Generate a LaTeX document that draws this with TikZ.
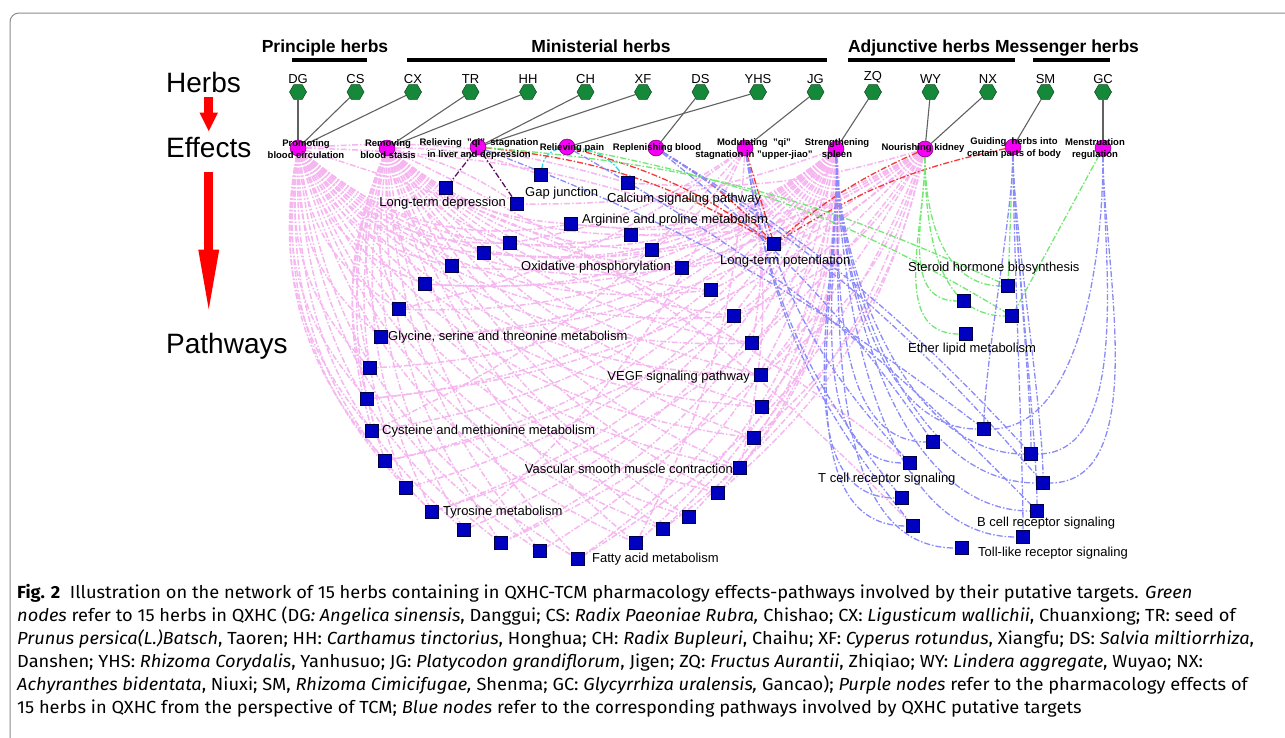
\documentclass[tikz,border=0pt]{standalone}
\usepackage{fontspec}
\setmainfont{Liberation Sans}
\newfontfamily\capfont[FakeStretch=1.042]{Fira Sans}
\usetikzlibrary{arrows.meta,shapes.geometric,backgrounds}
\definecolor{herbgreen}{HTML}{16883A}
\definecolor{effmag}{HTML}{F400F4}
\definecolor{pathblue}{HTML}{0000C0}
\definecolor{edgepink}{HTML}{F6B6F0}
\definecolor{edgeblue}{HTML}{8A8AFA}
\definecolor{edgered}{HTML}{F43838}
\definecolor{edgegreen}{HTML}{72E872}
\definecolor{edgecyan}{HTML}{22D8E4}
\definecolor{edgeplum}{HTML}{5E1264}
\definecolor{framegray}{HTML}{8A8A8A}
\tikzset{
  herb/.style={regular polygon, regular polygon sides=6, minimum size=17pt, inner sep=0pt, fill=herbgreen, draw=herbgreen!55!black, line width=0.5pt, label distance=3pt},
  effect/.style={circle, minimum size=16pt, inner sep=0pt, fill=effmag, draw=effmag!45!black, line width=0.5pt},
  pathway/.style={rectangle, minimum size=13pt, inner sep=0pt, fill=pathblue, draw=pathblue!35!black, line width=0.6pt},
  herbtxt/.style={font=\fontsize{13}{15}\selectfont, inner sep=1pt},
  efftxt/.style={font=\bfseries\fontsize{9.5}{11.5}\selectfont, align=center, inner sep=0pt},
  pathtxt/.style={font=\fontsize{13}{15}\selectfont, inner sep=0pt},
  sidetxt/.style={font=\fontsize{28}{32}\selectfont, inner sep=0pt, anchor=base west},
  titletxt/.style={font=\bfseries\fontsize{17.5}{20}\selectfont, inner sep=0pt, anchor=base},
  captxt/.style={font=\capfont\fontsize{17.5}{20}\selectfont, inner sep=0pt, anchor=base west},
  bar/.style={line width=4pt},
  herbline/.style={draw=black!62, line width=1.1pt},
  dd/.style={dash pattern=on 6pt off 2pt on 1.5pt off 2pt, line width=1.3pt},
  pinkedge/.style={dd, draw=edgepink, line width=1.5pt},
  blueedge/.style={dd, draw=edgeblue},
  rededge/.style={dd, draw=edgered},
  greenedge/.style={dd, draw=edgegreen},
  cyanedge/.style={dd, draw=edgecyan},
  plumedge/.style={dd, draw=edgeplum},
  bigarr/.style={draw=red, line width=#1, line cap=butt},
}
\begin{document}
\begin{tikzpicture}[x=1pt, y=-1pt]
  \useasboundingbox (0,0) rectangle (1285,737);
  \draw[framegray, line width=1pt, rounded corners=9pt] (10,760) -- (10,13) -- (1300,13);

  % left column
  \node[sidetxt] (herbs) at (166,92) {Herbs};
  \node[sidetxt] (effects) at (166,157) {Effects};
  \node[sidetxt] (pathways) at (166,353) {Pathways};
  \draw[bigarr=8.5pt, -{Triangle[length=19pt, width=17pt]}, shorten <=5pt, shorten >=5pt] (effects.north |- herbs.south) -- (effects.north);
  \draw[bigarr=9pt, -{Triangle[length=68pt, width=18pt]}, shorten <=15pt, shorten >=15pt] (effects.south) -- (effects.south |- pathways.north);

  % herb groups
  \node[titletxt] (tprin) at (325,52) {Principle herbs};
  \node[titletxt] (tmini) at (601,52) {Ministerial herbs};
  \node[titletxt] (tadju) at (919,52) {Adjunctive herbs};
  \node[titletxt] (tmess) at (1067,52) {Messenger herbs};
  \draw[bar] (292,60) -- (367,60);
  \draw[bar] (407,60) -- (827,60);
  \draw[bar] (848,60) -- (1015,60);
  \draw[bar] (1033,60) -- (1110,60);

  \foreach \nm/\tx [count=\i from 0] in {dg/DG, cs/CS, cx/CX, tr/TR, hh/HH, ch/CH, xf/XF, ds/DS, yhs/YHS, jg/JG, zq/ZQ, wy/WY, nx/NX, sm/SM, gc/GC}
    \node[herb, label={[herbtxt]above:\tx}] (\nm) at ({298+57.5*\i},92) {};

  % effects
  \foreach \nm/\x/\y in {pbc/298/148, rbs/387/148, rqs/478/147, rpn/567/147, rpb/656/148, mqs/745/148, ssp/836/149, nkd/925/149, ghb/1013/147, mre/1103/148}
    \node[effect] (\nm) at (\x,\y) {};
  \foreach \nm/\x/\y/\tx in {pbc/306/149/{Promoting\\blood circulation}, rbs/388/149/{Removing\\blood stasis}, rqs/479/149/{Relieving \ "qi" \ stagnation\\in liver and depression}, rpn/572/148/{Relieving pain}, rpb/657/148/{Replenishing blood}, mqs/754/149/{Modulating \ "qi"\\stagnation in "upper-jiao"}, ssp/837/149/{Strengthening\\spleen}, nkd/923/148/{Nourishing kidney}, ghb/1014/148/{Guiding \ herbs into\\certain parts of body}, mre/1095/149/{Menstruation\\regulation}}
    \node[efftxt] (\nm-t) at (\x,\y) {\tx};

  % pathways
  \foreach \x/\y [count=\k] in {571/224, 510/243, 484/253, 452/266, 425/284, 399/309, 381/337, 370/368, 367/399, 372/431, 385/461, 406/488, 432/512, 464/530, 501/543, 540/551, 578/559, 636/543, 663/529, 689/517, 718/493, 740/468, 754/438, 762/407, 761/375, 752/343, 734/316, 711/290, 682/268, 652/250, 631/235}
    \node[pathway] (m\k) at (\x,\y) {};
  \foreach \nm/\x/\y in {ltda/446/188, ltdb/517/204, gap/541/175, cal/628/183, ltp/774/244, st1/1008/286, st2/964/301, st3/1012/316, st4/966/334, im1/984/429, im2/933/442, im3/1031/454, im4/910/463, im5/1043/483, im6/902/498, im7/1037/511, im8/913/526, im9/1023/537, im10/962/548}
    \node[pathway] (\nm) at (\x,\y) {};

  \node[pathtxt, anchor=east] (tltd) at (506,203) {Long-term depression};
  \node[pathtxt, anchor=west] (tgap) at (525,193) {Gap junction};
  \node[pathtxt, anchor=west] (tcal) at (607,199) {Calcium signaling pathway};
  \node[pathtxt, anchor=west] (targ) at (582,220) {Arginine and proline metabolism};
  \node[pathtxt, anchor=east] (toxp) at (671,267) {Oxidative phosphorylation};
  \node[pathtxt, anchor=west] (tltp) at (720,261) {Long-term potentiation};
  \node[pathtxt, anchor=west] (tgly) at (388,337) {Glycine, serine and threonine metabolism};
  \node[pathtxt, anchor=west] (tcys) at (382,431) {Cysteine and methionine metabolism};
  \node[pathtxt, anchor=west] (ttyr) at (443,512) {Tyrosine metabolism};
  \node[pathtxt, anchor=west] (tfat) at (592,559) {Fatty acid metabolism};
  \node[pathtxt, anchor=east] (tvsm) at (733,469) {Vascular smooth muscle contraction};
  \node[pathtxt, anchor=east] (tveg) at (750,377) {VEGF signaling pathway};
  \node[pathtxt, anchor=west] (tste) at (908,268) {Steroid hormone biosynthesis};
  \node[pathtxt, anchor=west] (teth) at (908,349) {Ether lipid metabolism};
  \node[pathtxt, anchor=west] (ttcr) at (818,479) {T cell receptor signaling};
  \node[pathtxt, anchor=west] (tbcr) at (977,523) {B cell receptor signaling};
  \node[pathtxt, anchor=west] (ttlr) at (978,553) {Toll-like receptor signaling};

  \begin{scope}[on background layer]
    \foreach \h/\e in {dg/pbc, cs/pbc, cx/pbc, tr/rbs, hh/rbs, ch/rqs, xf/rqs, ds/rpb, yhs/rpn, jg/mqs, zq/ssp, wy/nkd, nx/nkd, sm/ghb, gc/mre}
      \draw[herbline] (\h) -- (\e);
    \foreach \k in {1,...,31} {
      \draw[pinkedge] (pbc) to[bend right=25] (m\k);
      \draw[pinkedge] (rbs) to[bend right=18] (m\k);
      \draw[pinkedge] (ssp) to[bend left=22] (m\k);
    }
    \foreach \k in {1,3,...,31} \draw[pinkedge] (nkd) to[bend left=18] (m\k);
    \foreach \k in {2,6,...,30} \draw[pinkedge] (mqs) to[bend left=12] (m\k);
    \foreach \s/\t in {pbc/ltp, pbc/cal, rbs/gap, rbs/ltdb, ssp/ltdb, nkd/cal, pbc/im4, rbs/im8}
      \draw[pinkedge] (\s) to[bend left=10] (\t);
    \draw[plumedge] (rqs) -- (ltda);
    \draw[plumedge] (rqs) -- (ltdb);
    \draw[cyanedge] (rpn) to[bend right=35] (gap);
    \draw[cyanedge] (rpn) to[bend left=25] (cal);
    \foreach \s/\b in {rqs/12, rpn/10, rpb/8}
      \draw[rededge] (\s) to[bend left=\b] (ltp);
    \draw[rededge] (mqs) -- (ltp);
    \draw[rededge] (nkd) to[bend right=8] (ltp);
    \draw[rededge] (ghb) to[bend right=10] (ltp);
    \draw[greenedge] (rqs) to[bend left=10] (st1);
    \draw[greenedge] (rpn) to[bend left=10] (st3);
    % out/in angles are page angles: -90 points down the page
    \foreach \k in {1,...,4} \draw[greenedge] (nkd) to[out=-90, in=180] (st\k);
    \draw[greenedge] (ghb) -- (st1);
    \draw[greenedge] (mre) -- (st3);
    \foreach \k in {1,...,10} \draw[blueedge] (ssp) to[out=-88, in=180, looseness=0.85] (im\k);
    \foreach \k in {1,3,5,7,9} \draw[blueedge] (ghb) to[out=-90, in=90, looseness=0.5] (im\k);
    \foreach \k in {1,3,5} \draw[blueedge] (mre) to[out=-90, in=0, looseness=0.8] (im\k);
    \foreach \k in {2,3,5} \draw[blueedge] (rpb) to[bend left=8] (im\k);
    \foreach \k in {4,6,8} \draw[blueedge] (mqs) to[bend right=15] (im\k);
    \draw[blueedge] (rqs) to[bend left=8] (im1);
    \draw[blueedge] (rpn) to[bend left=8] (im7);
  \end{scope}

  % caption
  \node[captxt] (cap1) at (17,598) {\textbf{Fig. 2}\ \ Illustration on the network of 15 herbs containing in QXHC-TCM pharmacology effects-pathways involved by their putative targets. \textit{Green}};
  \node[captxt] (cap2) at (17,621) {\textit{nodes} refer to 15 herbs in QXHC (DG\textit{: Angelica sinensis}, Danggui; CS: \textit{Radix Paeoniae Rubra,} Chishao; CX: \textit{Ligusticum wallichii}, Chuanxiong; TR: seed of};
  \node[captxt] (cap3) at (17,644) {\textit{Prunus persica(L.)Batsch}, Taoren; HH: \textit{Carthamus tinctorius}, Honghua; CH: \textit{Radix Bupleuri}, Chaihu; XF: \textit{Cyperus rotundus}, Xiangfu; DS: \textit{Salvia miltiorrhiza},};
  \node[captxt] (cap4) at (17,667) {Danshen; YHS: \textit{Rhizoma Corydalis}, Yanhusuo; JG: \textit{Platycodon grandiflorum}, Jigen; ZQ: \textit{Fructus Aurantii}, Zhiqiao; WY: \textit{Lindera aggregate}, Wuyao; NX:};
  \node[captxt] (cap5) at (17,690) {\textit{Achyranthes bidentata}, Niuxi; SM, \textit{Rhizoma Cimicifugae,} Shenma; GC: \textit{Glycyrrhiza uralensis,} Gancao); \textit{Purple nodes} refer to the pharmacology effects of};
  \node[captxt] (cap6) at (17,713) {15 herbs in QXHC from the perspective of TCM; \textit{Blue nodes} refer to the corresponding pathways involved by QXHC putative targets};
\end{tikzpicture}
\end{document}
